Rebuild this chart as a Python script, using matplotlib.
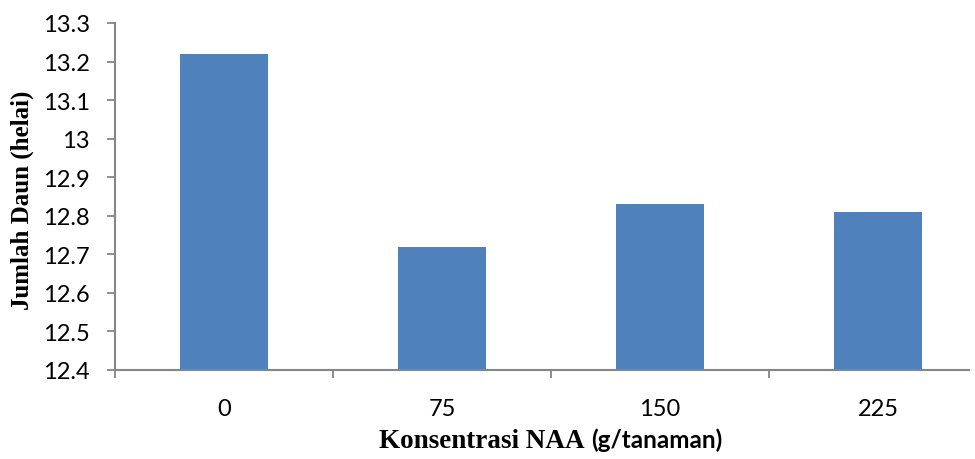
import matplotlib
matplotlib.use("Agg")
import matplotlib.pyplot as plt
import numpy as np

# Data
categories = ["0", "75", "150", "225"]
values = [13.22, 12.72, 12.83, 12.81]
yticks = [12.4, 12.5, 12.6, 12.7, 12.8, 12.9, 13.0, 13.1, 13.2, 13.3]
ytick_labels = ["12.4", "12.5", "12.6", "12.7", "12.8", "12.9", "13", "13.1", "13.2", "13.3"]

W, H = 975, 460
fig = plt.figure(figsize=(W / 100, H / 100), dpi=100)
# plot area in pixels: left 115, right 969, top 24, bottom 371
ax = fig.add_axes([115 / W, 1 - 371 / H, (969 - 115) / W, (371 - 24) / H])

axis_col = "#868686"
bar_col = "#4F81BD"

x = np.arange(len(categories))
ax.bar(x, values, width=0.40, color=bar_col, zorder=2)

ax.set_ylim(12.4, 13.3)
ax.set_xlim(-0.5, -0.5 + 854 / 218)

ax.set_yticks(yticks)
ax.set_yticklabels(ytick_labels, family="Lato", fontsize=17)
ax.tick_params(axis="y", length=6, width=1.3, color=axis_col, pad=12)

ax.set_xticks(x)
ax.set_xticklabels(categories, family="Lato", fontsize=17)
ax.set_xticks(np.arange(len(categories)) - 0.5, minor=True)
ax.tick_params(axis="x", which="major", length=0, pad=20)
ax.tick_params(axis="x", which="minor", length=6, width=1.3, color=axis_col)

for s in ["top", "right"]:
    ax.spines[s].set_visible(False)
for s in ["left", "bottom"]:
    ax.spines[s].set_color(axis_col)
    ax.spines[s].set_linewidth(1.5)

# y label (serif bold)
fig.text(22 / W, 1 - 200 / H, "Jumlah Daun (helai)", rotation=90,
         ha="center", va="center", family="Liberation Serif",
         fontweight="bold", fontsize=18)

# x label: serif part + sans part, same baseline
fig.text(585 / W, 1 - 448 / H, "Konsentrasi NAA", ha="right", va="baseline",
         family="Liberation Serif", fontweight="bold", fontsize=19.5)
fig.text(591 / W, 1 - 448 / H, "(g/tanaman)", ha="left", va="baseline",
         family="Lato", fontweight="bold", fontsize=17.5)

fig.savefig("out.png", dpi=100)
